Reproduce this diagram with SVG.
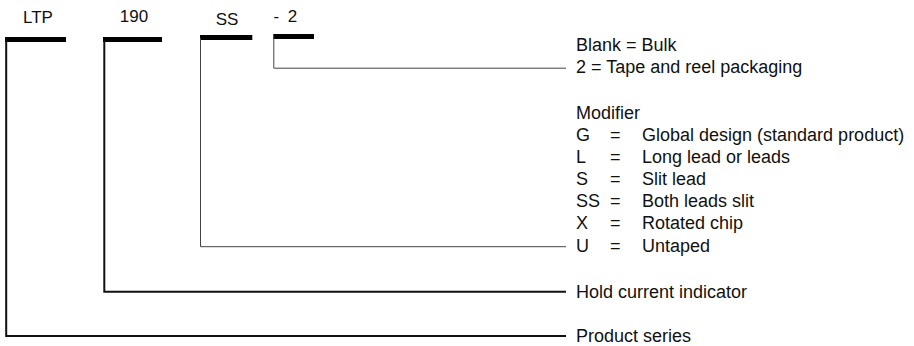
<svg xmlns="http://www.w3.org/2000/svg" width="914" height="346" viewBox="0 0 914 346">
<style>
text{font-family:"Liberation Sans",Arial,sans-serif;fill:#111}
.lbl{font-size:17px}
.desc{font-size:18px}
.bar{fill:#000}
.thick{fill:none;stroke:#111;stroke-width:2}
.thin{fill:none;stroke:#444;stroke-width:1}
</style>
<rect width="914" height="346" fill="#fff"/>
<g id="seg-ltp">
<text class="lbl" x="38" y="22.5" text-anchor="middle">LTP</text>
<rect class="bar" x="5" y="37" width="61" height="5"/>
</g>
<g id="seg-190">
<text class="lbl" x="134" y="21.7" text-anchor="middle">190</text>
<rect class="bar" x="103" y="37" width="59" height="5"/>
</g>
<g id="seg-ss">
<text class="lbl" x="227" y="25" text-anchor="middle">SS</text>
<rect class="bar" x="200" y="35" width="52.3" height="5"/>
</g>
<g id="seg-2">
<text class="lbl" x="273.5" y="21.7">-<tspan dx="8.5">2</tspan></text>
<rect class="bar" x="273.3" y="34" width="40.7" height="5"/>
</g>
<g id="connectors">
<polyline class="thick" points="6.2,40 6.2,336 566,336"/>
<polyline class="thick" points="104.3,40 104.3,291.8 566,291.8"/>
<polyline class="thin" points="200.5,38 200.5,246.7 566,246.7"/>
<polyline class="thin" points="273.8,37 273.8,68.2 566,68.2"/>
</g>
<g id="desc-packaging" class="desc">
<text x="576" y="51">Blank = Bulk</text>
<text x="576" y="73.3">2 = Tape and reel packaging</text>
</g>
<g id="desc-modifier" class="desc">
<text x="576" y="118.5">Modifier</text>
<text x="576" y="140.8">G</text><text x="610" y="140.8">=</text><text x="642" y="140.8">Global design (standard product)</text>
<text x="576" y="162.9">L</text><text x="610" y="162.9">=</text><text x="642" y="162.9">Long lead or leads</text>
<text x="576" y="185">S</text><text x="610" y="185">=</text><text x="642" y="185">Slit lead</text>
<text x="576" y="207.2">SS</text><text x="610" y="207.2">=</text><text x="642" y="207.2">Both leads slit</text>
<text x="576" y="229.3">X</text><text x="610" y="229.3">=</text><text x="642" y="229.3">Rotated chip</text>
<text x="576" y="251.5">U</text><text x="610" y="251.5">=</text><text x="642" y="251.5">Untaped</text>
</g>
<g id="desc-hold" class="desc">
<text x="576" y="297.7">Hold current indicator</text>
</g>
<g id="desc-series" class="desc">
<text x="576" y="341.7">Product series</text>
</g>
</svg>
